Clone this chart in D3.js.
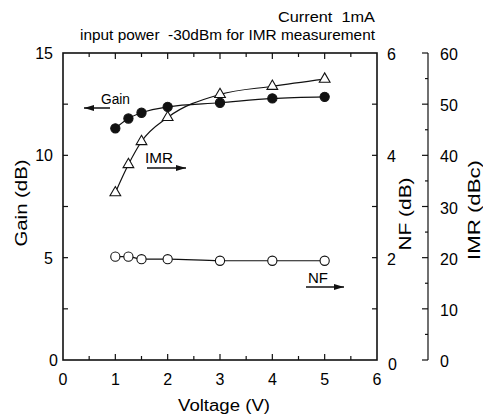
<!DOCTYPE html>
<html>
<head>
<meta charset="utf-8">
<script src="https://cdn.jsdelivr.net/npm/d3@7"></script>
<style>
  body { margin: 0; background: #fff; }
  svg { font-family: "Liberation Sans", Arial, sans-serif; }
  text { white-space: pre; }
</style>
</head>
<body>
<div id="chart"></div>
<script>
const W = 483, H = 416;

// measured values
const voltage = [1, 1.25, 1.5, 2, 3, 4, 5];
const gain = [11.32, 11.8, 12.08, 12.37, 12.57, 12.78, 12.86];   // dB, left axis
const imr = [32.7, 38.2, 42.7, 47.4, 51.9, 53.5, 54.9];           // dBc, far right axis
const nf = [2.02, 2.02, 1.97, 1.97, 1.94, 1.94, 1.94];            // dB, right axis

const xTicks = [0, 1, 2, 3, 4, 5, 6];
const gainTicks = [0, 5, 10, 15];
const nfTicks = [0, 2, 4, 6];
const imrTicks = [0, 10, 20, 30, 40, 50, 60];

const pLeft = 63, pRight = 377, pTop = 53, pBottom = 360;
const imrAxisX = 428;

const x = d3.scaleLinear().domain([0, 6]).range([pLeft, pRight]);
const yGain = d3.scaleLinear().domain([0, 15]).range([pBottom, pTop]);
const yNF = d3.scaleLinear().domain([0, 6]).range([pBottom, pTop]);
const yIMR = d3.scaleLinear().domain([0, 60]).range([pBottom, pTop]);

const svg = d3.select("#chart").append("svg")
    .attr("width", W)
    .attr("height", H);

// frame
svg.append("rect")
    .attr("x", pLeft).attr("y", pTop)
    .attr("width", pRight - pLeft).attr("height", pBottom - pTop)
    .style("fill", "none")
    .style("stroke", "#111")
    .style("stroke-width", 1.6);

// inward ticks on all four sides
const g = svg.append("g").style("stroke", "#111").style("stroke-width", 1.2);
d3.range(0.5, 6, 0.5).forEach(function(v) {
    const len = Number.isInteger(v) ? 6 : 4;
    g.append("line").attr("x1", x(v)).attr("x2", x(v)).attr("y1", pBottom).attr("y2", pBottom - len);
    g.append("line").attr("x1", x(v)).attr("x2", x(v)).attr("y1", pTop).attr("y2", pTop + len);
});
d3.range(2.5, 15, 2.5).forEach(function(v) {
    g.append("line").attr("x1", pLeft).attr("x2", pLeft + 5).attr("y1", yGain(v)).attr("y2", yGain(v));
});
d3.range(1, 6, 1).forEach(function(v) {
    g.append("line").attr("x1", pRight).attr("x2", pRight - 5).attr("y1", yNF(v)).attr("y2", yNF(v));
});

// IMR axis (separate line, ticks pointing left)
g.append("line").attr("x1", imrAxisX).attr("x2", imrAxisX).attr("y1", yIMR(60)).attr("y2", yIMR(0));
d3.range(0, 65, 5).forEach(function(v) {
    const len = v % 10 === 0 ? 6 : 3;
    g.append("line").attr("x1", imrAxisX).attr("x2", imrAxisX - len).attr("y1", yIMR(v)).attr("y2", yIMR(v));
});

const fs = 16;

// tick labels
svg.selectAll(".xl").data(xTicks).enter().append("text")
    .attr("x", d => x(d)).attr("y", 385)
    .attr("text-anchor", "middle")
    .style("font-size", fs + "px")
    .text(d => d);

svg.selectAll(".gl").data(gainTicks).enter().append("text")
    .attr("x", d => d === 0 ? 58 : 53).attr("y", d => yGain(d) + 6)
    .attr("text-anchor", "end")
    .style("font-size", fs + "px")
    .text(d => d);

svg.selectAll(".nl").data(nfTicks).enter().append("text")
    .attr("x", d => d === 0 ? 388 : 387).attr("y", d => d === 0 ? 370 : yNF(d) + 7)
    .style("font-size", fs + "px")
    .text(d => d);

svg.selectAll(".il").data(imrTicks).enter().append("text")
    .attr("x", 440).attr("y", d => yIMR(d) + 7)
    .style("font-size", fs + "px")
    .text(d => d);

// axis titles
function title(txt, tx, ty, rot, len) {
    svg.append("text")
        .attr("transform", "translate(" + tx + "," + ty + ") rotate(" + rot + ")")
        .attr("text-anchor", "middle")
        .attr("textLength", len)
        .attr("lengthAdjust", "spacingAndGlyphs")
        .style("font-size", "16px")
        .text(txt);
}
title("Voltage (V)", 224, 411, 0, 92);
title("Gain (dB)", 27, 203, -90, 87);
title("NF (dB)", 411, 214, -90, 73);
title("IMR (dBc)", 480, 210, -90, 100);

// header notes
svg.append("text")
    .attr("x", 375).attr("y", 22)
    .attr("text-anchor", "end")
    .attr("textLength", 97)
    .attr("lengthAdjust", "spacingAndGlyphs")
    .style("font-size", "14px")
    .text("Current  1mA");

svg.append("text")
    .attr("x", 375).attr("y", 40)
    .attr("text-anchor", "end")
    .attr("textLength", 295)
    .attr("lengthAdjust", "spacingAndGlyphs")
    .style("font-size", "14px")
    .text("input power  -30dBm for IMR measurement");

// series
const series = [
    { vals: gain, y: yGain, shape: "dot" },
    { vals: imr, y: yIMR, shape: "tri" },
    { vals: nf, y: yNF, shape: "ring" }
];

series.forEach(function(s) {
    const pts = voltage.map((v, i) => [x(v), s.y(s.vals[i])]);
    svg.append("path")
        .datum(pts)
        .attr("d", d3.line().curve(d3.curveMonotoneX))
        .style("fill", "none")
        .style("stroke", "#111")
        .style("stroke-width", 1.2);

    if (s.shape === "tri") {
        svg.selectAll(null).data(pts).enter().append("path")
            .attr("transform", d => "translate(" + d[0] + "," + d[1] + ")")
            .attr("d", d3.symbol().type(d3.symbolTriangle).size(50))
            .style("fill", "#fff")
            .style("stroke", "#111")
            .style("stroke-width", 1.1);
    } else {
        svg.selectAll(null).data(pts).enter().append("circle")
            .attr("cx", d => d[0]).attr("cy", d => d[1])
            .attr("r", 4.6)
            .style("fill", s.shape === "dot" ? "#111" : "#fff")
            .style("stroke", "#111")
            .style("stroke-width", 1.1);
    }
});

// series annotations with arrows
svg.append("defs").append("marker")
    .attr("id", "head")
    .attr("viewBox", "0 0 10 6")
    .attr("refX", 10).attr("refY", 3)
    .attr("markerWidth", 10).attr("markerHeight", 6)
    .attr("markerUnits", "userSpaceOnUse")
    .attr("orient", "auto")
    .append("path")
    .attr("d", "M0,0L10,3L0,6Z")
    .style("fill", "#111");

const notes = [
    { label: "Gain", tx: 101, ty: 104, w: 29, x1: 110, x2: 84, y: 108 },
    { label: "IMR", tx: 145, ty: 163, w: 28, x1: 147, x2: 186, y: 168 },
    { label: "NF", tx: 308, ty: 283, w: 20, x1: 306, x2: 344, y: 287 }
];

notes.forEach(function(n) {
    svg.append("text")
        .attr("x", n.tx).attr("y", n.ty)
        .attr("textLength", n.w)
        .attr("lengthAdjust", "spacingAndGlyphs")
        .style("font-size", "14px")
        .text(n.label);
    svg.append("line")
        .attr("x1", n.x1).attr("x2", n.x2)
        .attr("y1", n.y).attr("y2", n.y)
        .style("stroke", "#111")
        .style("stroke-width", 1.5)
        .attr("marker-end", "url(#head)");
});
</script>
</body>
</html>
